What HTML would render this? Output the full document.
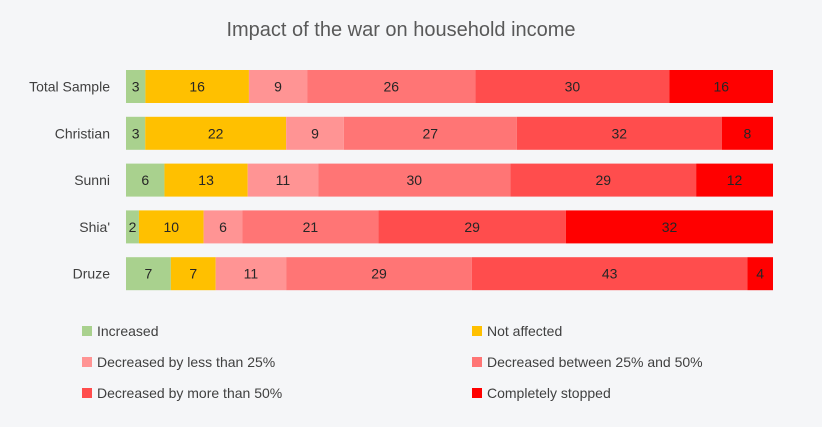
<!DOCTYPE html>
<html><head><meta charset="utf-8"><style>
body{margin:0;background:#f5f6f8;font-family:"Liberation Sans",sans-serif;}
svg text{font-family:"Liberation Sans",sans-serif;}
</style></head><body>
<svg id="c" width="822" height="422">
<rect width="822" height="422" fill="#f5f6f8"/>
<text x="401" y="36" text-anchor="middle" font-size="20" fill="#595959">Impact of the war on household income</text>
<g id="bars"></g><g id="legend"></g>
</svg>
<script>
const categories=["Total Sample","Christian","Sunni","Shia'","Druze"];
const seriesNames=["Increased","Not affected","Decreased by less than 25%","Decreased between 25% and 50%","Decreased by more than 50%","Completely stopped"];
const increased=[3,3,6,2,7];
const notAffected=[16,22,13,10,7];
const lessThan25=[9,9,11,6,11];
const between25and50=[26,27,30,21,29];
const moreThan50=[30,32,29,29,43];
const stopped=[16,8,12,32,4];
const colors=["#a9d18e","#ffc000","#ff9494","#ff7575","#ff4d4d","#ff0000"];
const series=[increased,notAffected,lessThan25,between25and50,moreThan50,stopped];
const NS="http://www.w3.org/2000/svg";
const x0=126,x1=773,yTop=70,step=46.8,bh=33;
const bars=document.getElementById('bars');
function mk(t,a){const e=document.createElementNS(NS,t);for(const k in a)e.setAttribute(k,a[k]);return e;}
categories.forEach((cat,i)=>{
  const y=yTop+i*step;
  const lab=mk('text',{x:110,y:y+bh/2+5,'text-anchor':'end','font-size':14,fill:'#404040'});
  lab.textContent=cat;
  
  
  bars.appendChild(lab);
  let tot=0;series.forEach(s=>tot+=s[i]);
  let cx=x0;
  series.forEach((s,j)=>{
    const w=s[i]/tot*(x1-x0);
    const r=mk('rect',{x:cx,y:y,width:w,height:bh,fill:colors[j]});
    
    
    bars.appendChild(r);
    const t=mk('text',{x:cx+w/2,y:y+bh/2+5,'text-anchor':'middle','font-size':14,fill:'#262626'});
    t.textContent=s[i];
    
    
    bars.appendChild(t);
    cx+=w;
  });
});
const lg=document.getElementById('legend');
seriesNames.forEach((n,j)=>{
  const lx=j%2?472:82, ly=331+Math.floor(j/2)*31;
  const g=mk('g',{});
  
  
  g.appendChild(mk('rect',{x:lx,y:ly-5,width:10,height:10,fill:colors[j]}));
  const t=mk('text',{x:lx+15,y:ly+5,'font-size':14,fill:'#404040'});
  t.textContent=n;
  g.appendChild(t);
  lg.appendChild(g);
});
</script>
</body></html>
